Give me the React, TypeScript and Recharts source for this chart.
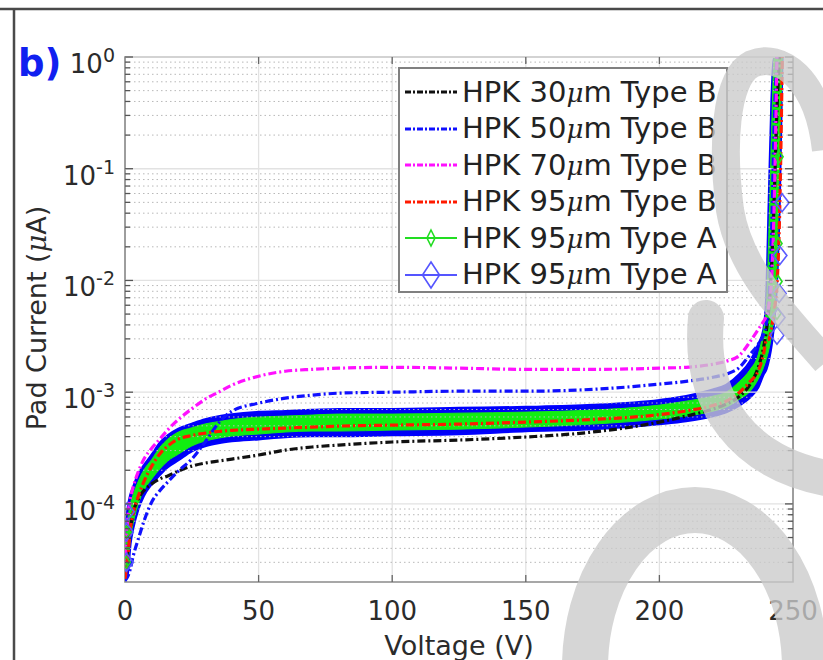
import React from 'react';
import {
  ComposedChart,
  Line,
  Area,
  Scatter,
  XAxis,
  YAxis,
  CartesianGrid,
  ReferenceLine,
  ReferenceArea,
  Legend,
  Label,
} from 'recharts';

// plot box (pixels) -- used only for tick marks drawn on the far side
const PLOT_LEFT = 125;
const PLOT_TOP = 57;
const PLOT_RIGHT = 793;
const PLOT_BOTTOM = 582;
const FONT = '"DejaVu Sans", Verdana, sans-serif';
const TEXT = '#2b2b2b';

// bias voltage grid (V)
const voltages = [0, 1, 2, 3, 5, 7, 10, 13, 16, 20, 25, 30, 35, 40, 50, 60, 70, 80, 100, 125, 150, 175, 200, 210, 220, 225, 230, 234, 237, 239, 240, 241, 242, 243, 244, 245, 246];

// pad current (uA)
const hpk30B = [2.37e-5, 3.96e-5, 5.98e-5, 8.15e-5, 1.11e-4, 1.31e-4, 1.51e-4, 1.67e-4, 1.78e-4, 1.97e-4, 2.18e-4, 2.32e-4, 2.42e-4, 2.52e-4, 2.74e-4, 3.03e-4, 3.23e-4, 3.36e-4, 3.58e-4, 3.73e-4, 3.97e-4, 4.4e-4, 5.4e-4, 6.11e-4, 7.05e-4, 7.82e-4, 9.21e-4, 1.18e-3, 1.67e-3, 2.52e-3, 3.51e-3, 5.74e-3, 1.39e-2, 5.86e-2, 0.336, 1, null];
const hpk50B = [2.05e-5, 2.23e-5, 2.63e-5, 3.36e-5, 4.87e-5, 6.9e-5, 1.04e-4, 1.31e-4, 1.57e-4, 1.97e-4, 2.52e-4, 3.58e-4, 5.29e-4, 6.76e-4, 7.97e-4, 8.84e-4, 9.4e-4, 9.8e-4, 1.0e-3, 1.02e-3, 1.02e-3, 1.06e-3, 1.18e-3, 1.25e-3, 1.36e-3, 1.45e-3, 1.67e-3, 2.18e-3, 2.68e-3, 3.3e-3, 4.05e-3, 6.77e-3, 2.85e-2, 0.274, 1, null, null];
const hpk70B = [2.37e-5, 7.35e-5, 1.11e-4, 1.4e-4, 1.95e-4, 2.5e-4, 3.15e-4, 3.8e-4, 4.6e-4, 5.7e-4, 7.1e-4, 8.66e-4, 1.0e-3, 1.155e-3, 1.39e-3, 1.54e-3, 1.6e-3, 1.64e-3, 1.67e-3, 1.64e-3, 1.6e-3, 1.6e-3, 1.64e-3, 1.67e-3, 1.78e-3, 1.89e-3, 2.14e-3, 2.85e-3, 3.65e-3, 4.31e-3, 4.77e-3, 6.1e-3, 1.02e-2, 5.28e-2, 1, null, null];
const hpk95B = [2.14e-5, 3.23e-5, 5.98e-5, 8.15e-5, 1.18e-4, 1.57e-4, 2.18e-4, 2.8e-4, 3.3e-4, 3.8e-4, 4.1e-4, 4.3e-4, 4.45e-4, 4.55e-4, 4.67e-4, 4.77e-4, 4.87e-4, 4.97e-4, 5.07e-4, 5.18e-4, 5.4e-4, 5.7e-4, 6.3e-4, 6.8e-4, 7.6e-4, 8.3e-4, 1.0e-3, 1.25e-3, 1.55e-3, 2.2e-3, 2.9e-3, 3.0e-3, 3.8e-3, 5.5e-3, 9.0e-3, 4.0e-2, 1];

// Type A: many pads, drawn as the spread (low / high edge) of the bundle
const blueALo = [2.05e-5, 2.37e-5, 4.4e-5, 5.98e-5, 9.02e-5, 1.18e-4, 1.51e-4, 1.82e-4, 2.14e-4, 2.47e-4, 2.97e-4, 3.3e-4, 3.51e-4, 3.65e-4, 3.8e-4, 3.97e-4, 4.05e-4, 4.05e-4, 4.13e-4, 4.22e-4, 4.49e-4, 4.67e-4, 5.18e-4, 5.51e-4, 6.11e-4, 6.63e-4, 7.66e-4, 9.02e-4, 1.11e-3, 1.45e-3, 1.6e-3, 1.97e-3, 2.68e-3, 4.49e-3, 1.02e-2, 5.28e-2, 1];
const blueAHi = [4.87e-5, 9.02e-5, 1.2e-4, 1.4e-4, 1.85e-4, 2.2e-4, 2.75e-4, 3.5e-4, 4.1e-4, 4.7e-4, 5.2e-4, 5.7e-4, 6.05e-4, 6.3e-4, 6.63e-4, 6.76e-4, 6.91e-4, 7.05e-4, 7.05e-4, 7.2e-4, 7.35e-4, 7.66e-4, 8.49e-4, 9.21e-4, 1.05e-3, 1.16e-3, 1.45e-3, 1.9e-3, 2.68e-3, 3.65e-3, 6.77e-3, 5.28e-2, 0.413, 1, 1, 1, 1];
const greenALo = [2.37e-5, 2.91e-5, 4.87e-5, 6.63e-5, 1.0e-4, 1.31e-4, 1.67e-4, 2.05e-4, 2.42e-4, 2.79e-4, 3.3e-4, 3.65e-4, 3.88e-4, 4.05e-4, 4.22e-4, 4.4e-4, 4.49e-4, 4.49e-4, 4.58e-4, 4.67e-4, 4.87e-4, 5.18e-4, 5.74e-4, 6.11e-4, 6.76e-4, 7.35e-4, 8.66e-4, 1.02e-3, 1.31e-3, 1.67e-3, 1.97e-3, 2.42e-3, 3.3e-3, 5.51e-3, 1.36e-2, 0.148, 1];
const greenAHi = [3.58e-5, 7.0e-5, 1.0e-4, 1.2e-4, 1.6e-4, 2.0e-4, 2.5e-4, 3.2e-4, 3.8e-4, 4.4e-4, 4.8e-4, 5.2e-4, 5.45e-4, 5.7e-4, 5.98e-4, 6.11e-4, 6.24e-4, 6.37e-4, 6.37e-4, 6.49e-4, 6.63e-4, 6.91e-4, 7.66e-4, 8.31e-4, 9.21e-4, 1.0e-3, 1.25e-3, 1.6e-3, 2.18e-3, 3.65e-3, 5.51e-3, 2.85e-2, 0.223, 1, 1, 1, 1];

// diamond markers on the Type A curves (first / last points of pads)
const blueAMarkers = [
  { v: 0.5, i: 3.0e-5 }, { v: 0.5, i: 5.6e-5 }, { v: 0.8, i: 8.5e-5 },
  { v: 244.0, i: 3.23e-3 }, { v: 244.4, i: 4.67e-3 }, { v: 244.8, i: 7.65e-3 },
  { v: 245.1, i: 1.67e-2 }, { v: 245.9, i: 4.97e-2 },
];
const greenAMarkers = [
  { v: 0.5, i: 3.0e-5 }, { v: 0.5, i: 5.6e-5 },
  { v: 244.0, i: 5.07e-3 }, { v: 244.4, i: 9.8e-3 }, { v: 244.4, i: 2.14e-2 }, { v: 244.8, i: 0.128 },
];

const xTicks = [0, 50, 100, 150, 200, 250];
const yMajorTicks = [1e-4, 1e-3, 1e-2, 1e-1, 1];
const yExponents = ['-4', '-3', '-2', '-1', '0'];
const mantissas = [2, 3, 4, 5, 6, 7, 8, 9];
const decades = [1e-5, 1e-4, 1e-3, 1e-2, 1e-1];
const yMinorTicks = decades
  .flatMap((d) => mantissas.map((m) => Number((m * d).toPrecision(3))))
  .filter((t) => t > 2e-5 && t < 1);

const legendNames = ['HPK 30μm Type B', 'HPK 50μm Type B', 'HPK 70μm Type B', 'HPK 95μm Type B', 'HPK 95μm Type A', 'HPK 95μm Type A'];
const legendColors = ['#111111', '#1010ff', '#ff10ff', '#ff1a00', '#22dd22', '#5555ff'];
const legendKinds = ['dashdot', 'dashdot', 'dashdot', 'dashdot', 'small', 'big'];

const DASHDOT = '8 3 2 3';

const chartRows = voltages.map((v, k) => ({
  v,
  hpk30B: hpk30B[k],
  hpk50B: hpk50B[k],
  hpk70B: hpk70B[k],
  hpk95B: hpk95B[k],
  blueA: [blueALo[k], blueAHi[k]],
  greenA: [greenALo[k], greenAHi[k]],
}));

function Diamond({ cx, cy, w, h, color, sw }: any) {
  if (cx == null || cy == null) return null;
  const d = `M${cx},${cy - h / 2} L${cx + w / 2},${cy} L${cx},${cy + h / 2} L${cx - w / 2},${cy} Z`;
  return <path d={d} fill="none" stroke={color} strokeWidth={sw} />;
}

const bigDiamond = (p: any) => <Diamond cx={p.cx} cy={p.cy} w={14} h={18} color="#5a5aff" sw={1.6} />;
const smallDiamond = (p: any) => <Diamond cx={p.cx} cy={p.cy} w={8} h={12} color="#22dd22" sw={1.6} />;

function XTick(props: any) {
  const { x, payload } = props;
  const inner = payload.value !== 0 && payload.value !== 250;
  return (
    <g>
      {inner && <line x1={x} x2={x} y1={PLOT_BOTTOM} y2={PLOT_BOTTOM - 7} stroke="#666" strokeWidth={1.3} />}
      {inner && <line x1={x} x2={x} y1={PLOT_TOP} y2={PLOT_TOP + 7} stroke="#666" strokeWidth={1.3} />}
      <text x={x} y={620} textAnchor="middle" fontFamily={FONT} fontSize={26} fill={TEXT}>
        {payload.value}
      </text>
    </g>
  );
}

function YTick(props: any) {
  const { y, payload } = props;
  const idx = yMajorTicks.indexOf(payload.value);
  const len = idx >= 0 ? 8 : 5;
  return (
    <g>
      <line x1={PLOT_LEFT} x2={PLOT_LEFT + len} y1={y} y2={y} stroke="#555" strokeWidth={1.3} />
      <line x1={PLOT_RIGHT} x2={PLOT_RIGHT - len} y1={y} y2={y} stroke="#555" strokeWidth={1.3} />
      {idx >= 0 && (
        <text x={115} y={y + 16} textAnchor="end" fontFamily={FONT} fontSize={26} fill={TEXT}>
          <tspan>10</tspan>
          <tspan dy={-11} fontSize={19}>{yExponents[idx]}</tspan>
        </text>
      )}
    </g>
  );
}

function MuText({ text, size }: { text: string; size: number }) {
  const [a, b] = text.split('μ');
  return (
    <>
      {a}
      <span style={{ fontFamily: '"DejaVu Serif", serif', fontStyle: 'italic', fontSize: size * 0.9 }}>μ</span>
      {b}
    </>
  );
}

function LegendSample({ k }: { k: number }) {
  const color = legendColors[k];
  const kind = legendKinds[k];
  return (
    <svg width={56} height={32} style={{ display: 'block', flex: 'none' }}>
      <line
        x1={2}
        x2={54}
        y1={16}
        y2={16}
        stroke={color}
        strokeWidth={kind === 'dashdot' ? 3 : 1.8}
        strokeDasharray={kind === 'dashdot' ? '6 2 2 2' : undefined}
      />
      {kind === 'small' && <Diamond cx={28} cy={16} w={8} h={16} color={color} sw={1.6} />}
      {kind === 'big' && <Diamond cx={28} cy={16} w={17} h={26} color={color} sw={1.6} />}
    </svg>
  );
}

function LegendBox() {
  return (
    <div
      style={{
        width: 330,
        height: 226,
        boxSizing: 'border-box',
        border: '2px solid #808080',
        background: '#fff',
        paddingTop: 5,
      }}
    >
      {legendNames.map((name, k) => (
        <div key={k} style={{ display: 'flex', alignItems: 'center', height: 36.5, paddingLeft: 3 }}>
          <LegendSample k={k} />
          <span style={{ fontFamily: FONT, fontSize: 29, color: '#222', marginLeft: 3, whiteSpace: 'nowrap', lineHeight: '32px' }}>
            <MuText text={name} size={29} />
          </span>
        </div>
      ))}
    </div>
  );
}

function YLabel() {
  return (
    <text transform="translate(46,318) rotate(-90)" textAnchor="middle" fontFamily={FONT} fontSize={27} fill={TEXT}>
      Pad Current (
      <tspan fontFamily='"DejaVu Serif", serif' fontStyle="italic">μ</tspan>
      A)
    </text>
  );
}

function Overlay() {
  // page frame, panel tag and the grey watermark lying over the figure
  return (
    <svg width={823} height={660} style={{ position: 'absolute', left: 0, top: 0, pointerEvents: 'none' }}>
      <g opacity={0.78} fill="none" stroke="#cbcbcb">
        <path d="M826,150 C818,78 780,52 752,64 C724,78 722,150 730,210 C740,272 790,320 826,362" strokeWidth={28} />
        <path d="M706,318 C698,405 745,462 826,478" strokeWidth={36} strokeLinecap="round" />
        <ellipse cx={695} cy={668} rx={110} ry={158} strokeWidth={46} />
      </g>
      <line x1={0} x2={823} y1={9} y2={9} stroke="#4a4a4a" strokeWidth={2.5} />
      <line x1={14} x2={14} y1={9} y2={660} stroke="#4a4a4a" strokeWidth={2.5} />
      <text x={18} y={76} fontFamily={FONT} fontWeight="bold" fontSize={37} fill="#1020f0">
        b)
      </text>
    </svg>
  );
}

export default function App() {
  return (
    <div style={{ position: 'absolute', left: 0, top: 0, width: 823, height: 660, background: '#fff' }}>
      <ComposedChart width={823} height={660} data={chartRows} margin={{ top: 57, right: 30, bottom: 0, left: 0 }}>
        <CartesianGrid horizontal={false} stroke="#e2e2e2" strokeWidth={1.3} />
        {yMinorTicks.map((t) => (
          <ReferenceLine key={`mn-${t}`} y={t} stroke="#b8b8b8" strokeDasharray="1.5 3" strokeWidth={1} />
        ))}
        {yMajorTicks.map((t) => (
          <ReferenceLine key={`mj-${t}`} y={t} stroke="#e2e2e2" strokeWidth={1.3} />
        ))}
        <XAxis
          dataKey="v"
          type="number"
          domain={[0, 250]}
          ticks={xTicks}
          allowDataOverflow
          height={78}
          tickLine={false}
          axisLine={false}
          tick={<XTick />}
          interval={0}
        >
          <Label value="Voltage (V)" position="insideBottom" offset={5} fontFamily={FONT} fontSize={27} fill={TEXT} />
        </XAxis>
        <YAxis
          type="number"
          scale="log"
          domain={[2e-5, 1]}
          allowDataOverflow
          ticks={[...yMinorTicks, ...yMajorTicks]}
          width={125}
          tickLine={false}
          axisLine={false}
          tick={<YTick />}
          interval={0}
        >
          <Label content={<YLabel />} />
        </YAxis>

        <Area dataKey="blueA" type="monotone" stroke="#0000ff" strokeWidth={2.5} fill="#0000f5" fillOpacity={1} isAnimationActive={false} />
        <Area dataKey="greenA" type="monotone" stroke="#18e818" strokeWidth={1} fill="#11ee11" fillOpacity={1} isAnimationActive={false} />

        <Line dataKey="hpk30B" type="monotone" stroke="#111111" strokeWidth={3.2} strokeDasharray={DASHDOT} dot={false} isAnimationActive={false} />
        <Line dataKey="hpk50B" type="monotone" stroke="#1010ff" strokeWidth={3.2} strokeDasharray={DASHDOT} dot={false} isAnimationActive={false} />
        <Line dataKey="hpk70B" type="monotone" stroke="#ff10ff" strokeWidth={3.2} strokeDasharray={DASHDOT} dot={false} isAnimationActive={false} />
        <Line dataKey="hpk95B" type="monotone" stroke="#ff1a00" strokeWidth={3.2} strokeDasharray={DASHDOT} dot={false} isAnimationActive={false} />

        <Scatter data={greenAMarkers} dataKey="i" shape={smallDiamond} isAnimationActive={false} />
        <Scatter data={blueAMarkers} dataKey="i" shape={bigDiamond} isAnimationActive={false} />

        <ReferenceArea x1={0} x2={250} y1={2e-5} y2={1} fill="none" stroke="#8a8a8a" strokeWidth={1.6} />

        <Legend
          layout="horizontal"
          verticalAlign="middle"
          align="center"
          wrapperStyle={{ left: 398, top: 67, width: 330, height: 226 }}
          content={() => <LegendBox />}
        />
      </ComposedChart>
      <Overlay />
    </div>
  );
}
